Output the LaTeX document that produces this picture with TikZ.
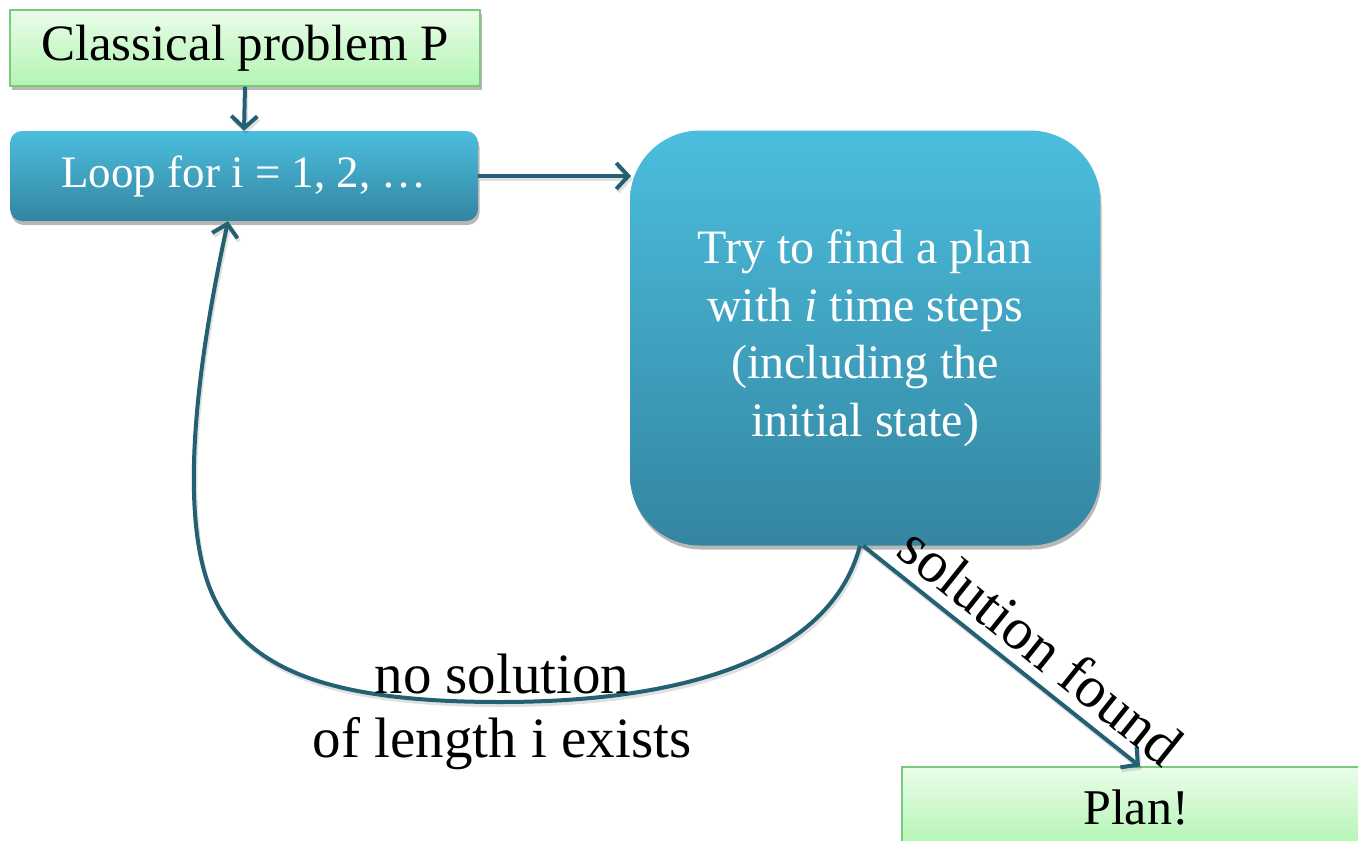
\documentclass[tikz,border=0pt]{standalone}
\usepackage{fontspec}
\setmainfont{Liberation Serif}
\usetikzlibrary{arrows.meta,shadows}

\definecolor{tealtop}{RGB}{75,190,222}
\definecolor{tealbot}{RGB}{52,133,160}
\definecolor{arrowcol}{RGB}{36,96,115}
\definecolor{greentop}{RGB}{234,252,234}
\definecolor{greenbot}{RGB}{178,245,178}
\definecolor{greenedge}{RGB}{124,200,124}

\begin{document}
\begin{tikzpicture}[x=1pt,y=-1pt,
  boxshadow/.style={drop shadow={shadow xshift=1.5pt,shadow yshift=-4pt,opacity=0.28,fill=black}},
  greenbox/.style={rectangle, draw=greenedge, line width=1.2pt, top color=greentop,
    bottom color=greenbot, inner sep=0pt, boxshadow, text=black},
  tealbox/.style={rectangle, top color=tealtop, bottom color=tealbot, inner sep=0pt,
    boxshadow, text=white},
  flow/.style={draw=arrowcol, line width=4pt,
    -{Straight Barb[length=12pt,width=26pt]},
    preaction={draw=black, draw opacity=0.12, line width=4pt,
      transform canvas={shift={(1.5pt,-3pt)}}}},
  lbl/.style={text=black, font=\fontsize{57}{64}\selectfont, inner sep=0pt}
]
\useasboundingbox (0,0) rectangle (1358,841);

% boxes
\node[greenbox, minimum width=470pt, minimum height=76pt,
  font=\fontsize{51}{60}\selectfont] (classical) at (245,48) {Classical problem P};
\node[tealbox, rounded corners=12pt, minimum width=468pt, minimum height=90pt,
  font=\fontsize{45}{54}\selectfont] (loop) at (244,176) {Loop for i = 1, 2, …};
\node[tealbox, rounded corners=70pt, minimum width=470pt, minimum height=415pt,
  align=center, font=\fontsize{48}{57.5}\selectfont] (try) at (865,338)
  {Try to find a plan\\with \textit{i} time steps\\(including the\\initial state)};
\node[greenbox, minimum width=468pt, minimum height=80pt,
  font=\fontsize{50}{60}\selectfont] (plan) at (1136,807) {Plan!};

% connectors
\coordinate (tryin) at (631,176);
\draw[flow] (classical.south) -- (loop.north);
\draw[flow] (loop.east) -- (tryin);
\draw[flow] ([xshift=-5pt]try.south)
  .. controls (830,660) and (680,702) .. (500,702)
  .. controls (330,702) and (250,670) .. (215,600)
  .. controls (185,540) and (185,420) .. ([xshift=-16pt]loop.south);
\draw[flow] ([xshift=-2pt]try.south) -- ([xshift=4pt]plan.north)
  node[pos=0.57, rotate=-38.6, anchor=south, lbl, font=\fontsize{59}{64}\selectfont,
    inner sep=10pt] (found) {solution found};

% label of the loop-back edge
\node[lbl, align=center] (nosol) at (502,712) {no solution\\of length i exists};
\end{tikzpicture}
\end{document}
